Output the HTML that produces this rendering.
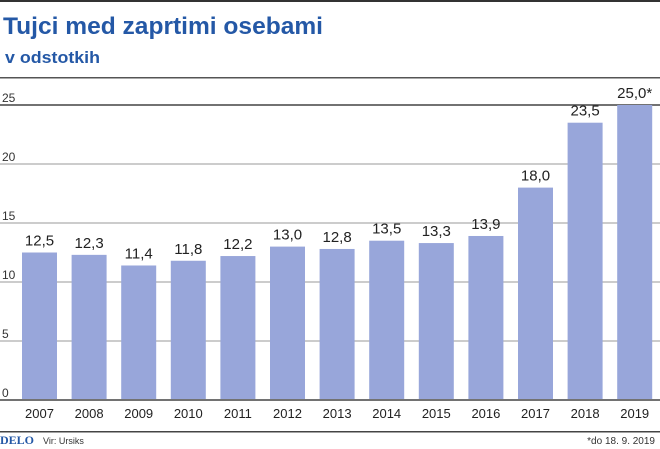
<!DOCTYPE html>
<html><head><meta charset="utf-8"><style>
html,body{margin:0;padding:0;background:#fff;}
svg{display:block;font-family:"Liberation Sans",sans-serif;}
</style></head><body>
<svg id="chart" width="660" height="449" viewBox="0 0 660 449" xmlns="http://www.w3.org/2000/svg">
<rect x="0" y="0" width="660" height="2" fill="#333"/>
<text x="3" y="34" font-size="24" font-weight="bold" fill="#2458a6" textLength="320" lengthAdjust="spacingAndGlyphs">Tujci med zaprtimi osebami</text>
<text x="5" y="63" font-size="17" font-weight="bold" fill="#2458a6" textLength="95" lengthAdjust="spacingAndGlyphs">v odstotkih</text>
<rect x="0" y="77" width="660" height="1.5" fill="#555"/>
<g id="grid"></g>
<g id="bars"></g>
<rect x="0" y="431" width="660" height="1.5" fill="#444"/>
<text x="0" y="444" font-family="Liberation Serif,serif" font-size="12" font-weight="bold" fill="#2458a6">DELO</text>
<text x="43" y="444" font-size="9" fill="#333">Vir: Ursiks</text>
<text x="655" y="444" font-size="10" fill="#333" text-anchor="end">*do 18. 9. 2019</text>
</svg>
<script>
const categories = ["2007","2008","2009","2010","2011","2012","2013","2014","2015","2016","2017","2018","2019"];
const values = [12.5,12.3,11.4,11.8,12.2,13.0,12.8,13.5,13.3,13.9,18.0,23.5,25.0];
const valueLabels = ["12,5","12,3","11,4","11,8","12,2","13,0","12,8","13,5","13,3","13,9","18,0","23,5","25,0*"];
const yTicks = [0,5,10,15,20,25];

const NS = "http://www.w3.org/2000/svg";
const y0 = 400, yTop = 105, yMax = 25;
const yScale = v => y0 - (v / yMax) * (y0 - yTop);
const x0 = 22, step = 49.6, bw = 35;
const xScale = i => x0 + i * step;

const grid = document.getElementById('grid');
yTicks.forEach(t => {
  const l = document.createElementNS(NS, 'rect');
  
  
  l.setAttribute('x', 0); l.setAttribute('width', 660);
  const dark = (t === 0 || t === yMax);
  l.setAttribute('y', yScale(t) - 0.75); l.setAttribute('height', 1.5);
  l.setAttribute('fill', dark ? '#444' : '#bbb');
  grid.appendChild(l);
  const tx = document.createElementNS(NS, 'text');
  
  
  tx.setAttribute('x', 2); tx.setAttribute('y', yScale(t) - 3);
  tx.setAttribute('font-size', 12); tx.setAttribute('fill', '#333');
  tx.textContent = t;
  grid.appendChild(tx);
});

const bars = document.getElementById('bars');
categories.forEach((c, i) => {
  const x = xScale(i), y = yScale(values[i]);
  const r = document.createElementNS(NS, 'rect');
  
  
  r.setAttribute('x', x); r.setAttribute('y', y);
  r.setAttribute('width', bw); r.setAttribute('height', y0 - 1 - y);
  r.setAttribute('fill', '#98a6da');
  bars.appendChild(r);
  const vl = document.createElementNS(NS, 'text');
  
  
  vl.setAttribute('x', x + bw / 2); vl.setAttribute('y', y - 7);
  vl.setAttribute('text-anchor', 'middle'); vl.setAttribute('font-size', 15);
  vl.setAttribute('fill', '#222');
  vl.textContent = valueLabels[i];
  bars.appendChild(vl);
  const xl = document.createElementNS(NS, 'text');
  
  
  xl.setAttribute('x', x + bw / 2); xl.setAttribute('y', 418);
  xl.setAttribute('text-anchor', 'middle'); xl.setAttribute('font-size', 13);
  xl.setAttribute('fill', '#222');
  xl.textContent = c;
  bars.appendChild(xl);
});
</script>
</body></html>
